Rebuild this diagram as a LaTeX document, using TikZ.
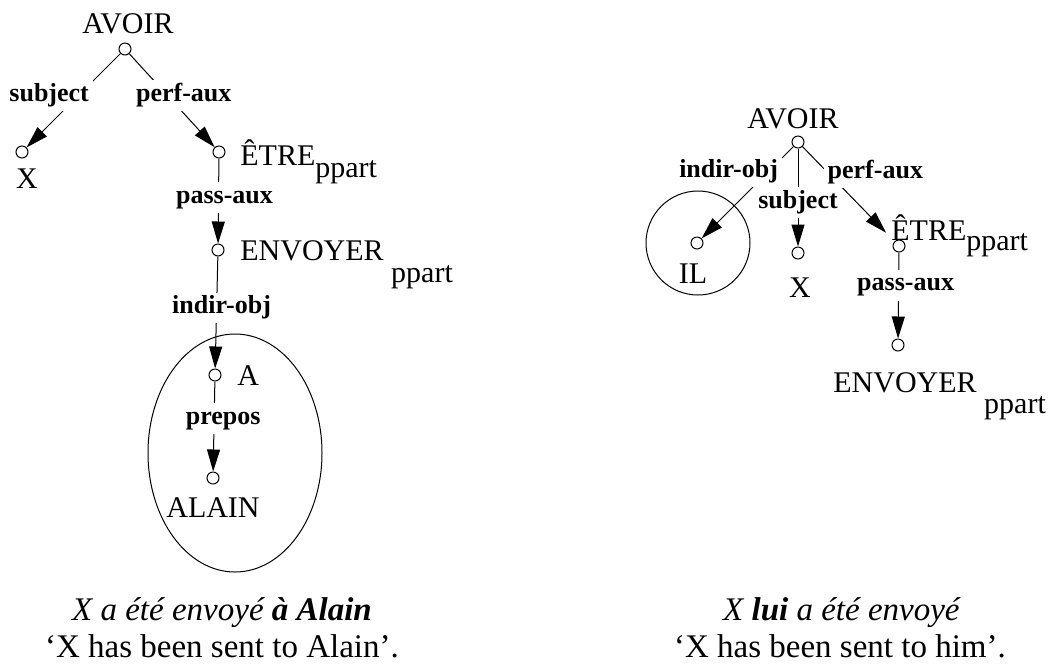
\documentclass[tikz,border=0pt]{standalone}
\usepackage{fontspec}
\setmainfont{Liberation Serif}
\usetikzlibrary{arrows.meta}
\newcommand{\ppart}[1]{\raisebox{-#1}{ppart}}

\begin{document}
\begin{tikzpicture}[x=0.5pt,y=-0.5pt,
  dot/.style={circle,draw,line width=0.5pt,inner sep=0pt,minimum size=6pt},
  word/.style={font=\fontsize{15}{18}\selectfont,inner sep=0pt,anchor=base},
  rel/.style={font=\fontsize{13}{15}\selectfont\bfseries,fill=white,inner sep=2pt,
              text height=8.6pt,text depth=2.8pt},
  dep/.style={line width=0.5pt,-{Triangle[length=11pt,width=6.5pt]}},
  gloss/.style={font=\fontsize{16.5}{19}\selectfont,inner sep=0pt,anchor=base}]
\useasboundingbox (0,0) rectangle (1050,666);

% left tree: a Alain
\draw[line width=0.5pt] (235,453) ellipse [x radius=87,y radius=119];
\node[dot] (avoirL) at (125,49) {};
\node[dot] (xL) at (22,152) {};
\node[dot] (etreL) at (219,152) {};
\node[dot] (envL) at (218,250) {};
\node[dot] (aL) at (215,375) {};
\node[dot] (alainL) at (213,478) {};
\node[word] (tAvoirL) at (128,33) {AVOIR};
\node[word] (tXL) at (27,188) {X};
\node[word,anchor=base west] (tEtreL) at (240,165) {ÊTRE\ppart{6pt}};
\node[word,anchor=base west] (tEnvL) at (240,260) {ENVOYER \ppart{11pt}};
\node[word,anchor=base west] (tAL) at (237,385) {A};
\node[word] (tAlainL) at (213,517) {ALAIN};
\draw[dep] (avoirL) -- node[rel,pos=.45,xshift=-14.5pt] (subjL) {subject} (xL);
\draw[dep] (avoirL) -- node[rel,pos=.45,xshift=8pt] (perfL) {perf-aux} (etreL);
\draw[dep] (etreL) -- node[rel,pos=.46,xshift=3pt] (passL) {pass-aux} (envL);
\draw[dep] (envL) -- node[rel,pos=.46,xshift=2.5pt] (indirL) {indir-obj} (aL);
\draw[dep] (aL) -- node[rel,pos=.41,xshift=4.5pt] (preposL) {prepos} (alainL);

% right tree: lui
\draw[line width=0.5pt] (698,243) circle [radius=52];
\node[dot] (avoirR) at (798,142) {};
\node[dot] (ilR) at (697,243) {};
\node[dot] (xR) at (798,253) {};
\node[dot] (etreR) at (899,246) {};
\node[dot] (envR) at (898,345) {};
\node[word] (tAvoirR) at (793,128) {AVOIR};
\node[word] (tIlR) at (693,283) {IL};
\node[word] (tXR) at (800,297) {X};
\node[word,anchor=base west] (tEtreR) at (891,240) {ÊTRE\ppart{5pt}};
\node[word,anchor=base west] (tEnvR) at (833,392) {ENVOYER \ppart{10.5pt}};
\draw[dep] (avoirR) -- node[rel,pos=.55] (subjR) {subject} (xR);
\draw[dep] (avoirR) -- node[rel,pos=.27,xshift=-20pt] (indirR) {indir-obj} (ilR);
\draw[dep,shorten >=6pt] (avoirR) -- node[rel,pos=.27,xshift=24pt] (perfR) {perf-aux} (etreR);
\draw[dep] (etreR) -- node[rel,pos=.38,xshift=3.5pt] (passR) {pass-aux} (envR);

% glosses
\node[gloss] (glossL) at (222,620) {\textit{X a été envoyé \textbf{à Alain}}};
\node[gloss] (transL) at (222,657) {‘X has been sent to Alain’.};
\node[gloss] (glossR) at (842,620) {\textit{X \textbf{lui} a été envoyé}};
\node[gloss] (transR) at (840,657) {‘X has been sent to him’.};
\end{tikzpicture}
\end{document}
